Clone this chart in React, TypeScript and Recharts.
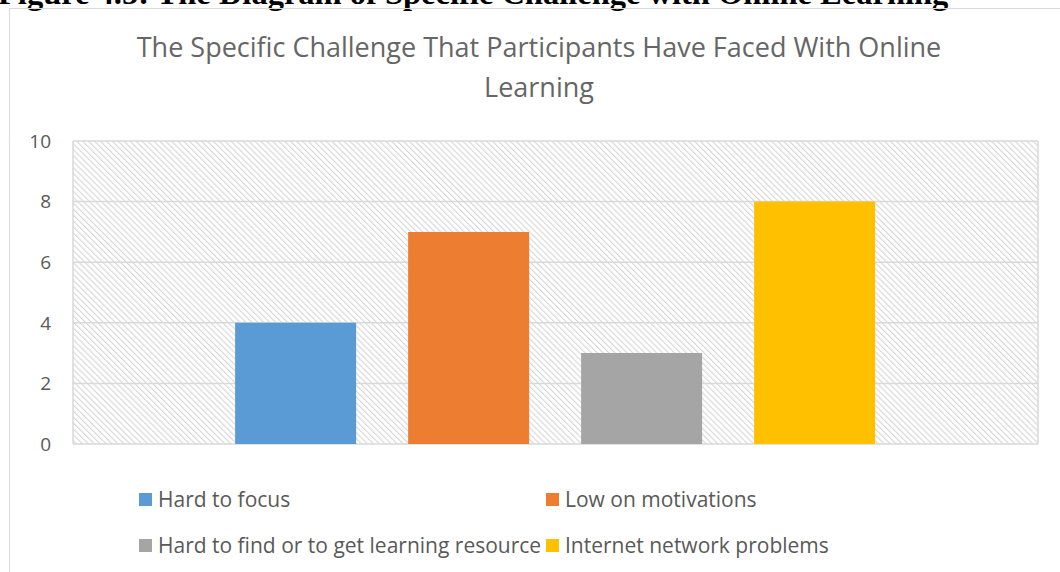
import { BarChart, Bar, XAxis, YAxis, CartesianGrid, Legend } from 'recharts'

const categories = ['Specific challenge']
const seriesNames = [
  'Hard to focus',
  'Low on motivations',
  'Hard to find or to get learning resource',
  'Internet network problems',
]
const seriesValues = [4, 7, 3, 8]
const yTicks = [0, 2, 4, 6, 8, 10]

const seriesColors = ['#5B9BD5', '#ED7D31', '#A5A5A5', '#FFC000']
const FONT = "'Open Sans', Lato, sans-serif"
const TEXT = '#595959'
const GRID = '#d9d9d9'

const data = categories.map((c) => {
  const row: Record<string, string | number> = { category: c }
  seriesNames.forEach((s, i) => {
    row[s] = seriesValues[i]
  })
  return row
})

function LegendBox({ payload }: any) {
  const items = [...(payload || [])].sort(
    (a: any, b: any) => seriesNames.indexOf(a.value) - seriesNames.indexOf(b.value),
  )
  return (
    <div style={{ display: 'grid', gridTemplateColumns: '407px 407px' }}>
      {items.map((p: any) => (
        <div
          key={p.value}
          style={{ display: 'flex', alignItems: 'center', height: 46, fontSize: 21, color: TEXT, fontFamily: FONT, whiteSpace: 'nowrap' }}
        >
          <span style={{ width: 13, height: 13, background: p.color, marginRight: 6, display: 'inline-block', flex: 'none' }} />
          {p.value}
        </div>
      ))}
    </div>
  )
}

export default function App() {
  return (
    <div style={{ position: 'absolute', left: 0, top: 0, width: 1060, height: 572, overflow: 'hidden', background: '#fff' }}>
      <svg width={0} height={0} style={{ position: 'absolute' }}>
        <defs>
          <pattern id="hatch" width={4.2} height={4.2} patternUnits="userSpaceOnUse" patternTransform="rotate(-45)">
            <rect width={4.2} height={4.2} fill="#fff" />
            <line x1={0} y1={0} x2={0} y2={4.2} stroke="#d6d6d6" strokeWidth={2.2} />
          </pattern>
        </defs>
      </svg>
      <div
        style={{
          position: 'absolute', left: -2, top: -23, fontFamily: "'Liberation Serif', 'Times New Roman', serif",
          fontWeight: 'bold', fontSize: 32.5, lineHeight: '32px', whiteSpace: 'nowrap', color: '#000',
        }}
      >
        Figure 4.5: The Diagram of Specific Challenge with Online Learning
      </div>
      <div style={{ position: 'absolute', left: 9, top: 8, width: 1080, height: 600, border: `1.5px solid ${GRID}` }} />
      <div
        style={{
          position: 'absolute', left: 9, top: 27, width: 1060, textAlign: 'center', fontFamily: FONT,
          fontSize: 27, lineHeight: '40px', color: '#666', fontWeight: 400,
        }}
      >
        The Specific Challenge That Participants Have Faced With Online
        <br />
        Learning
      </div>
      <div style={{ position: 'absolute', left: 0, top: 0 }}>
        <BarChart
          width={1060}
          height={572}
          data={data}
          margin={{ top: 141, right: 22, bottom: 128, left: 0 }}
          barCategoryGap="16.8%"
          barGap={52}
        >
          <CartesianGrid
            fill="url(#hatch)"
            stroke={GRID}
            strokeWidth={1.5}
            verticalCoordinatesGenerator={({ offset }: any) => [offset.left, offset.left + offset.width]}
          />
          <XAxis dataKey="category" hide />
          <YAxis
            domain={[0, 10]}
            ticks={yTicks}
            width={73}
            axisLine={false}
            tickLine={false}
            tickMargin={16}
            tick={{ fill: TEXT, fontSize: 19, fontFamily: FONT }}
          />
          {seriesNames.map((s, i) => (
            <Bar key={s} dataKey={s} fill={seriesColors[i]} isAnimationActive={false} />
          ))}
          <Legend
            layout="horizontal"
            verticalAlign="middle"
            align="center"
            content={<LegendBox />}
            wrapperStyle={{ position: 'absolute', left: 139, top: 476, width: 820 }}
          />
        </BarChart>
      </div>
    </div>
  )
}
